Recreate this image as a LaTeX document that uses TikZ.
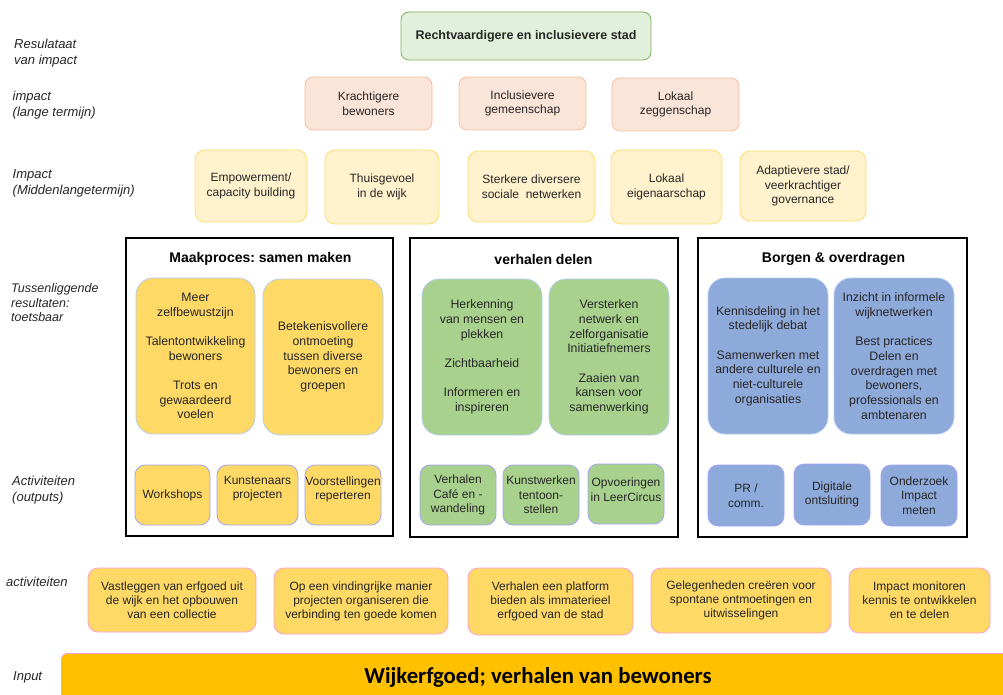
\documentclass[tikz,border=0pt]{standalone}
\usepackage{fontspec}
\setmainfont{Liberation Sans}
\newfontfamily\carlito{Carlito}
\definecolor{txt}{HTML}{262626}
\definecolor{goalF}{HTML}{E2EFDA}
\definecolor{goalD}{HTML}{7FB05F}
\definecolor{pinkF}{HTML}{FBE4D8}
\definecolor{pinkD}{HTML}{F6BE9F}
\definecolor{yelF}{HTML}{FFF2CC}
\definecolor{yelD}{HTML}{FFDC70}
\definecolor{yelB}{HTML}{FFD966}
\definecolor{bluB}{HTML}{B4CCF0}
\definecolor{lavB}{HTML}{A3A3F5}
\definecolor{grnF}{HTML}{A9D18E}
\definecolor{bluF}{HTML}{8EAADB}
\definecolor{pinkB}{HTML}{F9A0D0}
\definecolor{inpF}{HTML}{FFC000}
\frenchspacing
\begin{document}
\begin{tikzpicture}[x=1pt,y=-1pt,
  wh/.style 2 args={minimum width=#1pt, minimum height=#2pt},
  bx/.style={rectangle, align=center, inner sep=0pt, text=txt, line width=0.8pt,
    font=\fontsize{12}{14.5}\selectfont},
  goal/.style={bx, draw=goalD, fill=goalF, rounded corners=8pt,
    font=\bfseries\fontsize{12.5}{15}\selectfont},
  longt/.style={bx, draw=pinkD, fill=pinkF, rounded corners=8pt},
  midt/.style={bx, draw=yelD, fill=yelF, rounded corners=10pt},
  frm/.style={draw=black, line width=2pt, inner sep=0pt},
  ftitle/.style={inner sep=0pt, text=black, font=\bfseries\fontsize{14}{16}\selectfont},
  big/.style={bx, draw=bluB, rounded corners=17pt, font=\fontsize{12.3}{14.7}\selectfont},
  small/.style={bx, draw=lavB, rounded corners=10pt, font=\fontsize{12}{14.5}\selectfont},
  act/.style={bx, draw=pinkB, fill=yelB, rounded corners=10pt, font=\fontsize{12}{14}\selectfont},
  lbl/.style={anchor=west, align=left, inner sep=0pt, text=txt,
    font=\itshape\fontsize{13}{16}\selectfont},
  lbls/.style={lbl, font=\itshape\fontsize{12.5}{14.5}\selectfont},
  stxt/.style={align=center, inner sep=0pt, text=txt, font=\fontsize{12}{14.5}\selectfont}
]
\useasboundingbox (0,0) rectangle (1003,695);
\clip (0,0) rectangle (1003,695);

% left labels
\node[lbl] (r1) at (14,53) {Resulataat\\van impact};
\node[lbl] (r2) at (12.5,105.5) {impact\\(lange termijn)};
\node[lbl] (r3) at (12.5,183.5) {Impact\\(Middenlangetermijn)};
\node[lbls] (r4) at (11,303) {Tussenliggende\\resultaten:\\toetsbaar};
\node[lbl] (r5) at (12,490) {Activiteiten\\(outputs)};
\node[lbl] (r6) at (6,582) {activiteiten};
\node[lbl] (r7) at (13,677) {Input};

% goal
\node[goal, wh={250}{48}] (goal) at (526,36) {Rechtvaardigere en inclusievere stad};

% long term
\node[longt, wh={127}{53}] (l1) at (368.5,103.5) {Krachtigere\\bewoners};
\node[longt, wh={127}{53}] (l2) at (522.5,103.5) {Inclusievere\\gemeenschap};
\node[longt, wh={127}{53}] (l3) at (675.5,104.5) {Lokaal\\zeggenschap};

% mid term
\node[midt, wh={112}{72}] (m1) at (251,186) {Empowerment/\\capacity building};
\node[midt, wh={114}{74}] (m2) at (382,187) {Thuisgevoel\\in de wijk};
\node[midt, wh={127}{71}] (m3) at (531.5,186.5) {Sterkere diversere\\sociale\ \ netwerken};
\node[midt, wh={111}{74}] (m4) at (666.5,187) {Lokaal\\eigenaarschap};
\node[midt, wh={126}{70}] (m5) at (803,186) {Adaptievere stad/\\veerkrachtiger\\governance};

% frames
\node[frm, wh={267}{298}] (f1) at (259.5,387) {};
\node[frm, wh={268}{299}] (f2) at (544,387.5) {};
\node[frm, wh={269}{299}] (f3) at (832.5,387.5) {};
\node[ftitle] (t1) at (260.5,259) {Maakproces: samen maken};
\node[ftitle] (t2) at (543.5,259) {verhalen delen};
\node[ftitle] (t3) at (833.5,259) {Borgen \& overdragen};

% column 1
\node[big, fill=yelB, wh={119}{156}] (c1a) at (195.5,356)
  {Meer\\zelfbewustzijn\\~\\Talentontwikkeling\\bewoners\\~\\Trots en\\gewaardeerd\\voelen};
\node[big, fill=yelB, wh={120}{156}] (c1b) at (323,357)
  {Betekenisvollere\\ontmoeting\\tussen diverse\\bewoners en\\groepen};
\node[small, fill=yelB, wh={75}{60}] (c1c) at (172.5,495) {Workshops};
\node[small, fill=yelB, wh={81}{60}] (c1d) at (257.5,495) {};
\node[stxt] (c1dt) at (257.5,488.5) {Kunstenaars\\projecten};
\node[small, fill=yelB, wh={76}{60}] (c1e) at (343,495) {};
\node[stxt] (c1et) at (343,489.5) {Voorstellingen\\reperteren};

% column 2
\node[big, fill=grnF, wh={120}{156}] (c2a) at (482,357)
  {Herkenning\\van mensen en\\plekken\\~\\Zichtbaarheid\\~\\Informeren en\\inspireren};
\node[big, fill=grnF, wh={120}{156}] (c2b) at (609,357)
  {Versterken\\netwerk en\\zelforganisatie\\Initiatiefnemers\\~\\Zaaien van\\kansen voor\\samenwerking};
\node[small, fill=grnF, wh={76}{60}] (c2c) at (458,495) {Verhalen\\Caf\'e en -\\wandeling};
\node[small, fill=grnF, wh={76}{60}] (c2d) at (541,495) {Kunstwerken\\tentoon-\\stellen};
\node[small, fill=grnF, wh={76}{60}] (c2e) at (626,494) {};
\node[stxt] (c2et) at (626,489.5) {Opvoeringen\\in LeerCircus};

% column 3
\node[big, fill=bluF, wh={120}{156}] (c3a) at (768,356)
  {Kennisdeling in het\\stedelijk debat\\~\\Samenwerken met\\andere culturele en\\niet-culturele\\organisaties};
\node[big, fill=bluF, wh={120}{156}] (c3b) at (894,356)
  {Inzicht in informele\\wijknetwerken\\~\\Best practices\\Delen en\\overdragen met\\bewoners,\\professionals en\\ambtenaren};
\node[small, fill=bluF, wh={76}{61}] (c3c) at (746,495.5) {PR /\\comm.};
\node[small, fill=bluF, wh={76}{61}] (c3d) at (832,494.5) {Digitale\\ontsluiting};
\node[small, fill=bluF, wh={76}{61}] (c3e) at (919,495.5) {Onderzoek\\Impact\\meten};

% activities
\node[act, wh={168}{64}] (a1) at (172,600) {Vastleggen van erfgoed uit\\de wijk en het opbouwen\\van een collectie};
\node[act, wh={174}{66}] (a2) at (361,601) {Op een vindingrijke manier\\projecten organiseren die\\verbinding ten goede komen};
\node[act, wh={165}{67}] (a3) at (550.5,601.5) {Verhalen een platform\\bieden als immaterieel\\erfgoed van de stad};
\node[act, wh={180}{65}] (a4) at (741,600.5) {Gelegenheden cre\"eren voor\\spontane ontmoetingen en\\uitwisselingen};
\node[act, wh={141}{65}] (a5) at (919.5,600.5) {Impact monitoren\\kennis te ontwikkelen\\en te delen};

% input
\node[draw=pinkB, fill=inpF, line width=0.8pt, rounded corners=6pt, anchor=north west,
  minimum width=960pt, minimum height=60pt, inner sep=0pt] (inp) at (61,653) {};
\node[inner sep=0pt, text=black, font=\carlito\bfseries\fontsize{22.8}{26}\selectfont] (inpt) at (538,677.5)
  {Wijkerfgoed; verhalen van bewoners};
\end{tikzpicture}
\end{document}
